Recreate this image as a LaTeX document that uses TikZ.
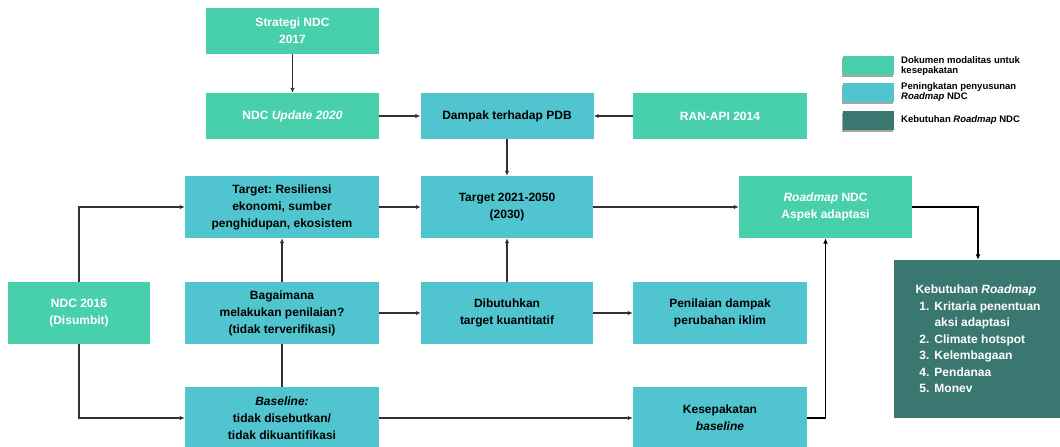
\documentclass[tikz,border=0pt]{standalone}
\usepackage{fontspec}
\setmainfont{Liberation Sans}
\usetikzlibrary{arrows.meta,calc}
\definecolor{mint}{HTML}{48CFAB}
\definecolor{cyanbox}{HTML}{50C5CF}
\definecolor{darkteal}{HTML}{3A7771}
\definecolor{linegray}{HTML}{333333}
\newcommand\numitem[1]{\makebox[14pt][r]{#1}\hspace{5pt}}
\frenchspacing
\begin{document}
\begin{tikzpicture}[x=1pt,y=-1pt,
  box/.style={rectangle,inner sep=2pt,align=center,font=\fontsize{12}{17}\selectfont\bfseries},
  mintbox/.style={box,fill=mint,text=white},
  cyanbx/.style={box,fill=cyanbox,text=black},
  darkbox/.style={box,fill=darkteal,text=white},
  conn/.style={draw=linegray,line width=1.1pt,-{Latex[length=5pt,width=4.5pt]}},
  plain/.style={draw=linegray,line width=1.1pt},
  thick conn/.style={draw=black,line width=1.5pt,-{Latex[length=5.5pt,width=5pt]}},
  legbox/.style={rectangle,inner sep=0pt,minimum width=51pt,minimum height=19pt},
  legtext/.style={anchor=west,align=left,inner sep=0pt,font=\fontsize{9.5}{10.5}\selectfont\bfseries}
]
\useasboundingbox (0,0) rectangle (1060,447);
\fill[white] (0,0) rectangle (1060,447);

% boxes
\node[mintbox,minimum width=173pt,minimum height=46pt] (strat) at (292.5,31) {Strategi NDC\\2017};
\node[mintbox,minimum width=173pt,minimum height=46pt] (upd) at (292.5,116) {NDC \textit{Update 2020}};
\node[cyanbx,minimum width=173pt,minimum height=46pt] (pdb) at (507,116) {Dampak terhadap PDB};
\node[mintbox,minimum width=174pt,minimum height=46pt] (ran) at (720,116) {RAN-API 2014};

\node[cyanbx,minimum width=194pt,minimum height=62pt] (res) at (282,207) {Target: Resiliensi\\ekonomi, sumber\\penghidupan, ekosistem};
\node[cyanbx,minimum width=172pt,minimum height=62pt] (tgt) at (507,207) {Target 2021-2050\\(2030)};
\node[mintbox,minimum width=173pt,minimum height=62pt] (road) at (825.5,207) {\textit{Roadmap} NDC\\Aspek adaptasi};

\node[mintbox,minimum width=142pt,minimum height=62pt] (ndc) at (79,313) {NDC 2016\\(Disumbit)};
\node[cyanbx,minimum width=194pt,minimum height=62pt] (bag) at (282,313) {Bagaimana\\melakukan penilaian?\\(tidak terverifikasi)};
\node[cyanbx,minimum width=172pt,minimum height=62pt] (dib) at (507,313) {Dibutuhkan\\target kuantitatif};
\node[cyanbx,minimum width=174pt,minimum height=62pt] (pen) at (720,313) {Penilaian dampak\\perubahan iklim};

\node[cyanbx,minimum width=194pt,minimum height=62pt] (base) at (282,418) {\textit{Baseline:}\\tidak disebutkan/\\tidak dikuantifikasi};
\node[cyanbx,minimum width=174pt,minimum height=62pt] (kes) at (720,418) {Kesepakatan\\\textit{baseline}};

\node[darkbox,minimum width=168pt,minimum height=158pt,align=left,font=\fontsize{12}{16.5}\selectfont\bfseries] (keb) at (978,339) {Kebutuhan \textit{Roadmap}\\
\numitem{1.}Kritaria penentuan\\
\hspace*{19pt}aksi adaptasi\\
\numitem{2.}Climate hotspot\\
\numitem{3.}Kelembagaan\\
\numitem{4.}Pendanaa\\
\numitem{5.}Monev};

% connectors
\draw[conn] (strat.south) -- (upd.north);
\draw[conn] (upd.east) -- (pdb.west);
\draw[conn] (ran.west) -- (pdb.east);
\draw[conn] (pdb.south) -- (tgt.north);
\draw[conn] (res.east) -- (tgt.west);
\draw[conn] (tgt.east) -- (road.west);
\draw[conn] (dib.north) -- (tgt.south);
\draw[conn] (bag.east) -- (dib.west);
\draw[conn] (dib.east) -- (pen.west);
\draw[conn] (bag.north) -- (res.south);
\draw[plain] (base.north) -- (bag.south);
\draw[conn] (ndc.north) |- (res.west);
\draw[conn] (ndc.south) |- (base.west);
\draw[conn] (base.east) -- (kes.west);
\draw[thick conn] (kes.east) -| (road.south);
\draw[thick conn] (road.east) -| (keb.north);

% legend
\foreach \yy/\cc/\nm in {65.5/mint/la,92/cyanbox/lb,120/darkteal/lc}{
  \fill[gray!70] (841.5,\yy-7.5) rectangle (892.5,\yy+11.5);
  \node[legbox,fill=\cc] (\nm) at (868.5,\yy) {};
}
\node[legtext] (lta) at (901,66) {Dokumen modalitas untuk\\kesepakatan};
\node[legtext] (ltb) at (901,92) {Peningkatan penyusunan\\\textit{Roadmap} NDC};
\node[legtext] (ltc) at (901,120) {Kebutuhan \textit{Roadmap} NDC};
\end{tikzpicture}
\end{document}
